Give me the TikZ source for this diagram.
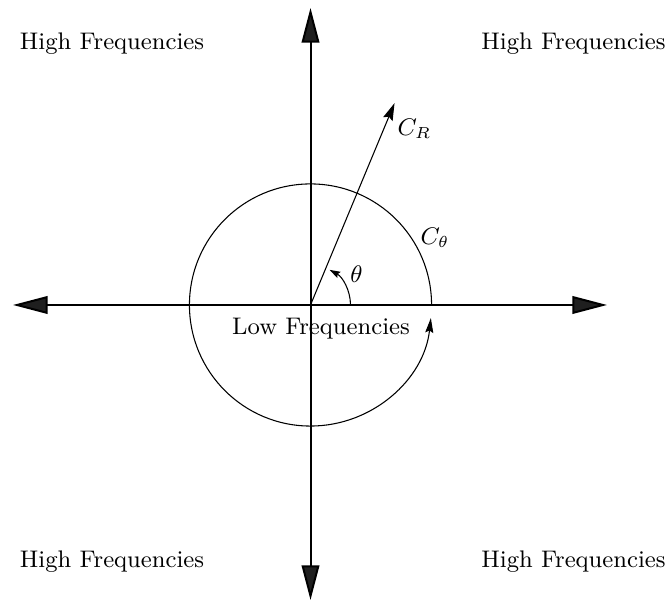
\documentclass[tikz,border=0pt]{standalone}
\usetikzlibrary{arrows.meta}
\begin{document}
\begin{tikzpicture}[x=0.375pt,y=0.375pt,
  axis/.style={line width=0.75pt,{Triangle[length=13pt,width=6.6pt,fill=black!88]}-{Triangle[length=13pt,width=6.6pt,fill=black!88]}},
  thin line/.style={line width=0.4pt},
  lbl/.style={font=\fontsize{9}{11}\selectfont,inner sep=0pt},
  mlbl/.style={font=\fontsize{9}{11}\selectfont,inner sep=0pt,anchor=west}]
\useasboundingbox (0,0) rectangle (667,601);
\coordinate (O) at (310.5,296);
\coordinate (L) at (13,296);
\coordinate (R) at (607,296);
\coordinate (T) at (310.5,593);
\coordinate (B) at (310.5,1);
\draw[axis] (L) -- (R);
\draw[axis] (B) -- (T);
% circle with arrow
\draw[thin line,-{Stealth[length=5.5pt,width=3pt,inset=0.8pt]}] (O) ++(0:45.4pt) arc[start angle=0,end angle=353.8,radius=45.4pt];
% C_R ray
\draw[thin line,-{Stealth[length=6.5pt,width=3.8pt,inset=1pt]}] (O) -- ++(67.4:82pt) coordinate (CR);
% theta arc
\draw[thin line,-{Stealth[length=4pt,width=2.6pt,inset=0.6pt]}] (O) ++(0:15pt) arc[start angle=0,end angle=61.5,radius=15pt];
% labels
\node[mlbl] (cr) at (397,472) {$C_R$};
\node[mlbl] (ct) at (420,363) {$C_\theta$};
\node[lbl] (th) at (356.5,326.5) {$\theta$};
\node[lbl,anchor=base] (low) at (321,266) {Low Frequencies};
\node[lbl,anchor=base] (hf1) at (112,551) {High Frequencies};
\node[lbl,anchor=base] (hf2) at (573.5,551) {High Frequencies};
\node[lbl,anchor=base] (hf3) at (112,33) {High Frequencies};
\node[lbl,anchor=base] (hf4) at (573.5,33) {High Frequencies};
\end{tikzpicture}
\end{document}
